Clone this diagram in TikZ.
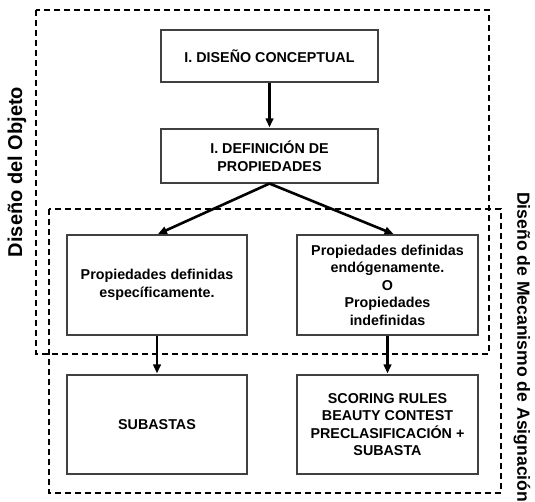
\documentclass[tikz,border=0pt]{standalone}
\usepackage{fontspec}
\setmainfont{Liberation Sans}
\usetikzlibrary{arrows.meta}
\begin{document}
\begin{tikzpicture}[x=1pt,y=-1pt,
  box/.style={draw=black!75, line width=1.1pt, fill=white, align=center,
    font=\bfseries\fontsize{14.3}{17.5}\selectfont, inner sep=0pt},
  frame/.style={draw=black, line width=1.4pt, dash pattern=on 6pt off 4pt},
  arr/.style={line width=2.6pt, -{Triangle[length=9pt,width=7.5pt]}, shorten >=1pt}]
\useasboundingbox (0,0) rectangle (535,501);
% frames
\draw[frame] (36,10) rectangle (489,354);
\draw[frame] (49,209) rectangle (501,493);
% labels
\node[rotate=90, inner sep=0pt, font=\bfseries\fontsize{20}{24}\selectfont] (lab1) at (17,172) {Diseño del Objeto};
\node[rotate=-90, anchor=west, inner sep=0pt, font=\bfseries\fontsize{17.6}{20}\selectfont] (lab2) at (522,192) {Diseño de Mecanismo de Asignación};
% boxes
\node[box, minimum width=217pt, minimum height=52pt] (b1) at (269.5,56) {I. DISEÑO CONCEPTUAL};
\node[box, minimum width=217pt, minimum height=54pt] (b2) at (269.5,156) {I. DEFINICIÓN DE\\PROPIEDADES};
\node[box, minimum width=180pt, minimum height=100pt] (L) at (157,285) {Propiedades definidas\\específicamente.};
\node[box, minimum width=181pt, minimum height=100pt] (R) at (387.5,285) {Propiedades definidas\\endógenamente.\\O\\Propiedades\\indefinidas};
\node[box, minimum width=180pt, minimum height=99pt] (S) at (157,424.5) {SUBASTAS};
\node[box, minimum width=181pt, minimum height=99pt] (SC) at (387.5,424.5) {SCORING RULES\\BEAUTY CONTEST\\PRECLASIFICACIÓN +\\SUBASTA};
% arrows
\draw[arr] (b1) -- (b2);
\draw[arr] (b2.south) -- (L.north);
\draw[arr] (b2.south) -- ([xshift=7pt]R.north);
\draw[arr] (L) -- (S);
\draw[arr] (R) -- (SC);
\end{tikzpicture}
\end{document}
